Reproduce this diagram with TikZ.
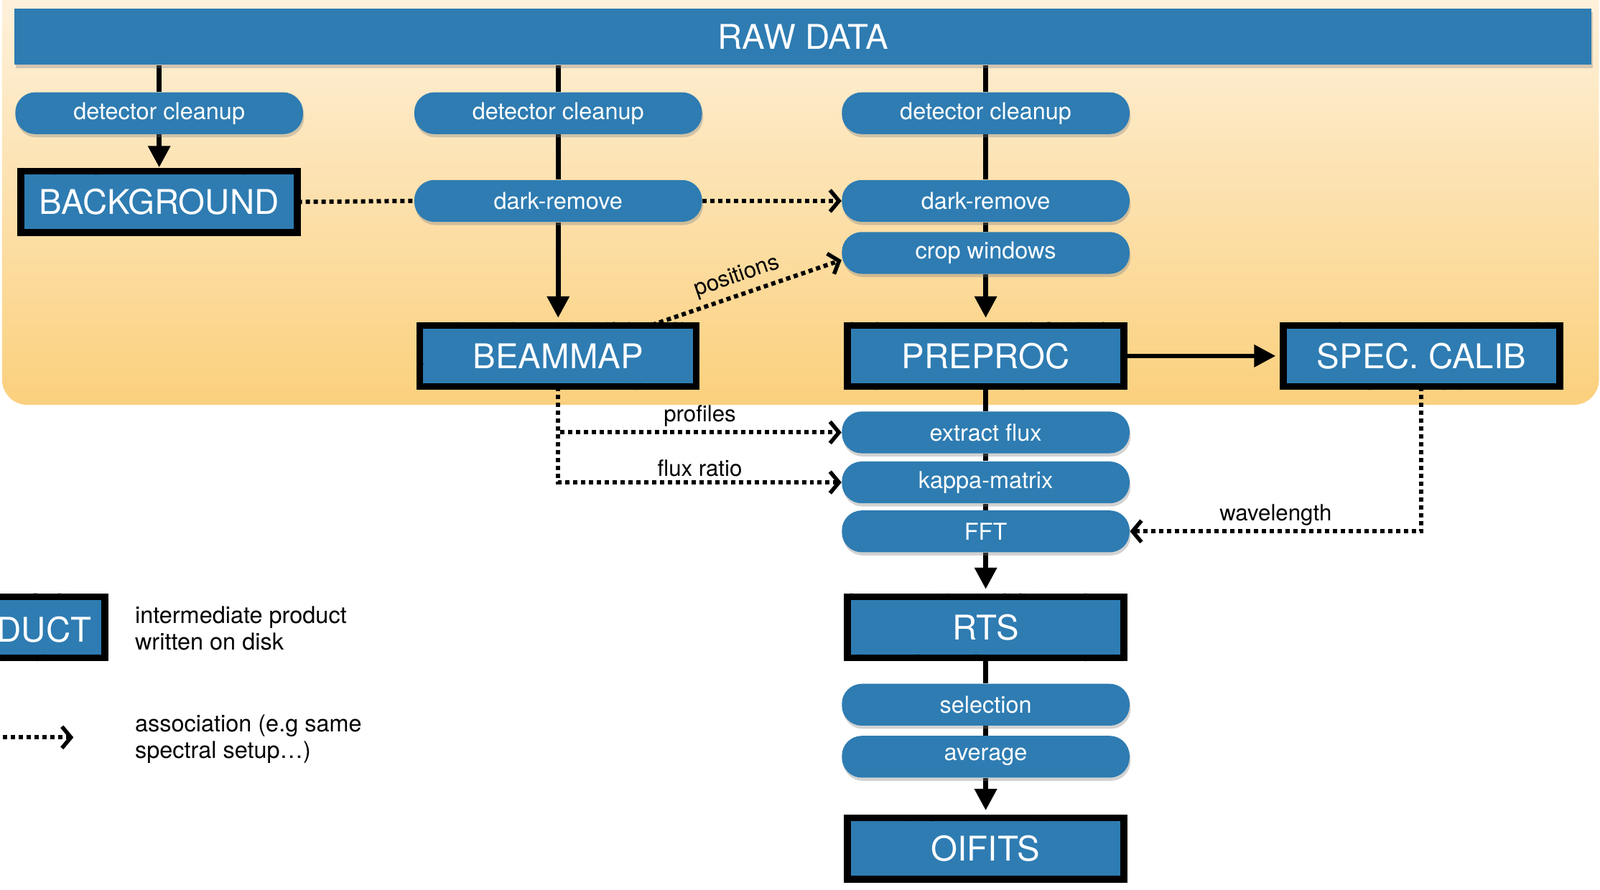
\documentclass[tikz,border=0pt]{standalone}
\usepackage{fontspec}
\setmainfont{TeX Gyre Heros}
\usetikzlibrary{arrows.meta,shadows,decorations.pathmorphing,calc}
\definecolor{boxblue}{RGB}{46,124,178}
\definecolor{creamtop}{RGB}{254,244,228}
\definecolor{orangebot}{RGB}{251,208,125}
\pgfdeclarelayer{bg}\pgfdeclarelayer{conn}\pgfsetlayers{bg,conn,main}
\begin{document}
\begin{tikzpicture}[x=0.02cm,y=-0.02cm,
  shad/.style={drop shadow={opacity=0.35, shadow xshift=0.6pt, shadow yshift=-1.8pt}},
  pill/.style={shad, fill=boxblue, rounded corners=0.39cm, minimum width=5.64cm,
    minimum height=0.82cm, inner sep=0pt, text=white, font=\fontsize{13}{15}\selectfont},
  product/.style={shad, fill=boxblue, minimum width=5.42cm, minimum height=1.2cm,
    inner sep=0pt, text=white, font=\fontsize{19}{22}\selectfont,
    postaction={draw=black, line width=3.8pt},
    postaction={draw=black, line width=2pt, line join=round, line cap=round, decorate,
      decoration={random steps, segment length=1pt, amplitude=0.9pt}}},
  bar/.style={shad, fill=boxblue, minimum width=30.92cm, minimum height=1.1cm,
    inner sep=0pt, text=white, font=\fontsize{19}{22}\selectfont},
  flow/.style={line width=2.7pt},
  flowarr/.style={flow, -{Triangle[length=12pt,width=12pt]}},
  assoc/.style={line width=2.4pt, dash pattern=on 2.4pt off 2pt},
  assocarr/.style={assoc, -{Straight Barb[length=5pt,width=12pt,line width=2.2pt]}},
  lbl/.style={font=\fontsize{12.5}{14}\selectfont, text=black, inner sep=2pt},
  legtext/.style={font=\fontsize{13}{14.8}\selectfont, align=left, anchor=west, inner sep=0pt}
]
\useasboundingbox (0,0) rectangle (1568,872);
\begin{pgfonlayer}{bg}
  \fill[white] (0,0) rectangle (1568,872);
  \shade[top color=creamtop, bottom color=orangebot, rounded corners=0.5cm] (2,-40) rectangle (1567,397);
\end{pgfonlayer}

% nodes
\node[bar] (raw) at (787,36) {RAW DATA};
\node[pill] (dc1) at (156,111) {detector cleanup};
\node[pill] (dc2) at (547,111) {detector cleanup};
\node[pill] (dc3) at (966,111) {detector cleanup};
\node[product] (bgd) at (156,198) {BACKGROUND};
\node[pill] (dk2) at (547,197) {dark-remove};
\node[pill] (dk3) at (966,197) {dark-remove};
\node[pill] (crop) at (966,248) {crop windows};
\node[product] (beam) at (547,349) {BEAMMAP};
\node[product] (pre) at (966,349) {PREPROC};
\node[product] (spec) at (1393,349) {SPEC. CALIB};
\node[pill] (ext) at (966,424) {extract flux};
\node[pill] (kap) at (966,473) {kappa-matrix};
\node[pill] (fft) at (966,521) {FFT};
\node[product] (rts) at (966,615) {RTS};
\node[pill] (sel) at (966,691) {selection};
\node[pill] (avg) at (966,742) {average};
\node[product] (oif) at (966,832) {OIFITS};

% legend
\node[product, anchor=east] (legbox) at (103,615) {};
\node[font=\fontsize{19}{22}\selectfont, text=white, anchor=east, inner sep=0pt] (legname) at (90,617) {PRODUCT};
\node[legtext] (legt1) at (132,616) {intermediate product\\written on disk};
\node[legtext] (legt2) at (132,725) {association (e.g same\\spectral setup\dots)};
\coordinate (legA) at (-5,723);
\coordinate (legB) at (72,723);

\begin{pgfonlayer}{conn}
  % column 1
  \draw[flow] (dc1.north |- raw.south) -- (dc1.north);
  \draw[flowarr] (dc1.south) -- ([yshift=2pt]bgd.north);
  % column 2
  \draw[flow] (dc2.north |- raw.south) -- (dc2.north);
  \draw[flow] (dc2.south) -- (dk2.north);
  \draw[flowarr] (dk2.south) -- ([yshift=4pt]beam.north);
  % column 3
  \draw[flow] (dc3.north |- raw.south) -- (dc3.north);
  \draw[flow] (dc3.south) -- (dk3.north);
  \draw[flow] (dk3.south) -- (crop.north);
  \draw[flowarr] (crop.south) -- ([yshift=4pt]pre.north);
  \draw[flow] (pre.south) -- (ext.north);
  \draw[flow] (ext.south) -- (kap.north);
  \draw[flow] (kap.south) -- (fft.north);
  \draw[flowarr] (fft.south) -- ([yshift=4pt]rts.north);
  \draw[flow] (rts.south) -- (sel.north);
  \draw[flow] (sel.south) -- (avg.north);
  \draw[flowarr] (avg.south) -- ([yshift=4pt]oif.north);
  \draw[flowarr] (pre.east) -- ([xshift=-4pt]spec.west);
  % associations
  \draw[assoc] (bgd.east) -- (dk2.west);
  \draw[assocarr] (dk2.east) -- (dk3.west);
  \draw[assocarr] ([xshift=-0.88cm]beam.north east) -- node[lbl, above=1pt, sloped, pos=0.48] {positions} ([yshift=-0.14cm]crop.west);
  \draw[assocarr] (beam.south) |- node[lbl, above, pos=0.75] {profiles} (ext.west);
  \draw[assocarr] (beam.south) |- node[lbl, above, pos=0.75] {flux ratio} (kap.west);
  \draw[assocarr] (spec.south) |- node[lbl, above, pos=0.75] {wavelength} (fft.east);
  \draw[assocarr] (legA) -- (legB);
\end{pgfonlayer}
\end{tikzpicture}
\end{document}
